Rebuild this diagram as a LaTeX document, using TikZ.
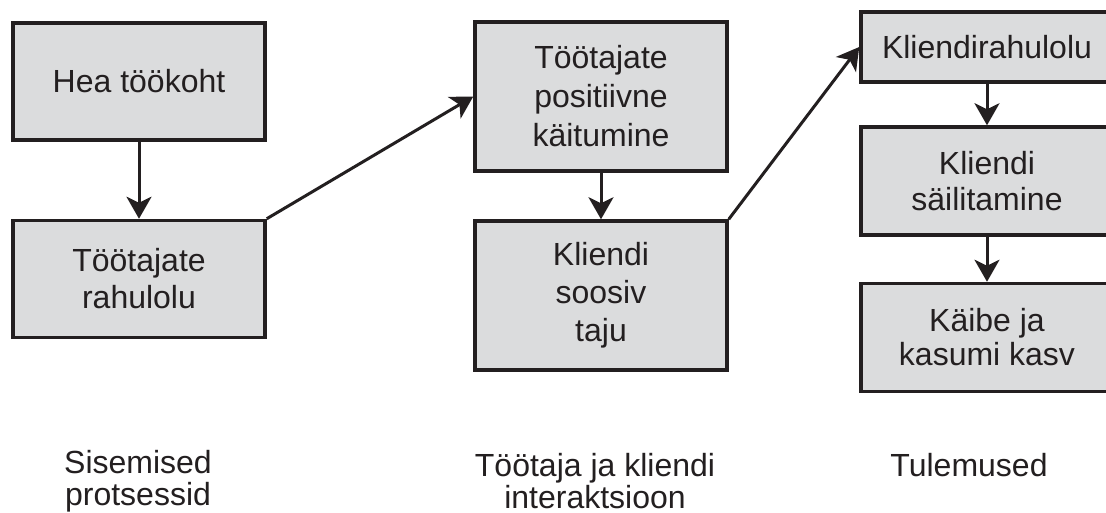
\documentclass[tikz,border=0pt]{standalone}
\usepackage{fontspec}
\setmainfont{Liberation Sans}
\usetikzlibrary{arrows.meta}
\definecolor{ink}{RGB}{35,31,32}
\definecolor{boxfill}{RGB}{219,220,221}
\tikzset{
  box/.style={draw=ink, fill=boxfill, line width=3.5pt, minimum width=252pt, align=center, text=ink,
    font=\fontsize{32}{38}\selectfont, inner sep=0pt},
  conn/.style={draw=ink, line width=3pt, -{Stealth[length=22pt,width=25pt,inset=6pt]}},
  lbl/.style={align=center, text=ink, font=\fontsize{32}{32}\selectfont, inner sep=0pt}
}
\begin{document}
\begin{tikzpicture}[x=1pt,y=-1pt]
\clip (0,0) rectangle (1106,513);
\fill[white] (0,0) rectangle (1106,513);
\node[box, minimum height=117pt] (b1) at (139,81.5) {Hea töökoht};
\node[box, minimum height=117pt, font=\fontsize{32}{37}\selectfont] (b2) at (139,279) {Töötajate\\rahulolu};
\node[box, minimum height=149pt, font=\fontsize{32}{39}\selectfont] (b3) at (601,96.5) {Töötajate\\positiivne\\käitumine};
\node[box, minimum height=149pt, font=\fontsize{32}{38}\selectfont] (b4) at (601,295.5) {Kliendi\\soosiv\\taju};
\node[box, minimum height=70pt] (b5) at (987,47) {Kliendirahulolu};
\node[box, minimum height=108pt, font=\fontsize{32}{36}\selectfont] (b6) at (987,181) {Kliendi\\säilitamine};
\node[box, minimum height=108pt, font=\fontsize{32}{34}\selectfont] (b7) at (987,337.5) {Käibe ja\\kasumi kasv};
\draw[conn] (b1) -- (b2);
\draw[conn] (b3) -- (b4);
\draw[conn] (b5) -- (b6);
\draw[conn] (b6) -- (b7);
\draw[conn] (b2.north east) -- (b3.west);
\draw[conn] (b4.north east) -- (b5.west);
\node[lbl] (l1) at (138,481) {Sisemised\\protsessid};
\node[lbl] (l2) at (595,481) {Töötaja ja kliendi\\interaktsioon};
\node[lbl] (l3) at (969,465) {Tulemused};
\end{tikzpicture}
\end{document}
